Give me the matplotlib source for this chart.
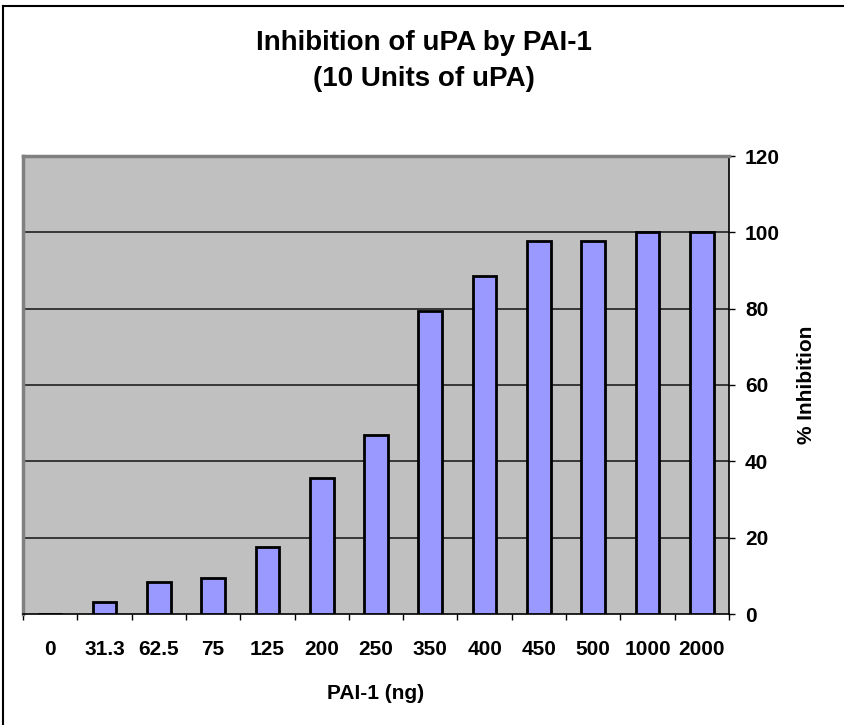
import matplotlib.pyplot as plt
from matplotlib.lines import Line2D
import numpy as np

plt.rcParams['font.family'] = ['Liberation Sans', 'DejaVu Sans']

# data
doses = ['0', '31.3', '62.5', '75', '125', '200', '250', '350', '400', '450', '500', '1000', '2000']
inhibition = [0, 3.2, 8.3, 9.4, 17.6, 35.6, 47.0, 79.4, 88.6, 97.6, 97.6, 100, 100]
y_ticks = [0, 20, 40, 60, 80, 100, 120]

W, H = 845, 725
fig = plt.figure(figsize=(W / 100, H / 100), dpi=100)
ax = fig.add_axes([23 / W, 1 - 614 / H, (729 - 23) / W, (614 - 156) / H])

x = np.arange(len(doses))
ax.set_facecolor('#C0C0C0')
ax.bar(x, inhibition, width=0.435, color='#9999FF', edgecolor='black', linewidth=2, zorder=3)

ax.set_xlim(-0.5, len(doses) - 0.5)
ax.set_ylim(0, 120)

# gridlines
for v in y_ticks[1:-1]:
    ax.axhline(v, color='#202020', linewidth=1.2, zorder=1)

# y axis on the right
ax.yaxis.tick_right()
ax.yaxis.set_label_position('right')
ax.set_yticks(y_ticks)
ax.set_yticklabels([str(v) for v in y_ticks], fontsize=15, fontweight='bold')
ax.tick_params(axis='y', direction='out', length=4.5, width=1, pad=7)

# x axis: labels at bar centers, ticks between categories
ax.set_xticks(x)
ax.set_xticklabels(doses, fontsize=15, fontweight='bold')
ax.set_xticks(np.arange(-0.5, len(doses)), minor=True)
ax.tick_params(axis='x', which='major', length=0, pad=19)
ax.tick_params(axis='x', which='minor', direction='out', length=4.5, width=1)

for side in ['top', 'left']:
    ax.spines[side].set_color('#808080')
    ax.spines[side].set_linewidth(2.5)
for side in ['bottom', 'right']:
    ax.spines[side].set_color('black')
    ax.spines[side].set_linewidth(1.2)

ax.set_xlabel('PAI-1 (ng)', fontsize=15, fontweight='bold', labelpad=18)
ax.set_ylabel('% Inhibition', fontsize=15, fontweight='bold', labelpad=12)

fig.text(424 / W, 1 - 61 / H, 'Inhibition of uPA by PAI-1\n(10 Units of uPA)',
         ha='center', va='center', fontsize=20, fontweight='bold', linespacing=1.45)

# chart frame (left and top edges visible)
fig.add_artist(Line2D([3.5 / W, 3.5 / W], [0, 1 - 5.5 / H], color='black', linewidth=1.5))
fig.add_artist(Line2D([3.5 / W, 1], [1 - 5.5 / H, 1 - 5.5 / H], color='black', linewidth=1.5))

fig.savefig('out.png', dpi=100)
